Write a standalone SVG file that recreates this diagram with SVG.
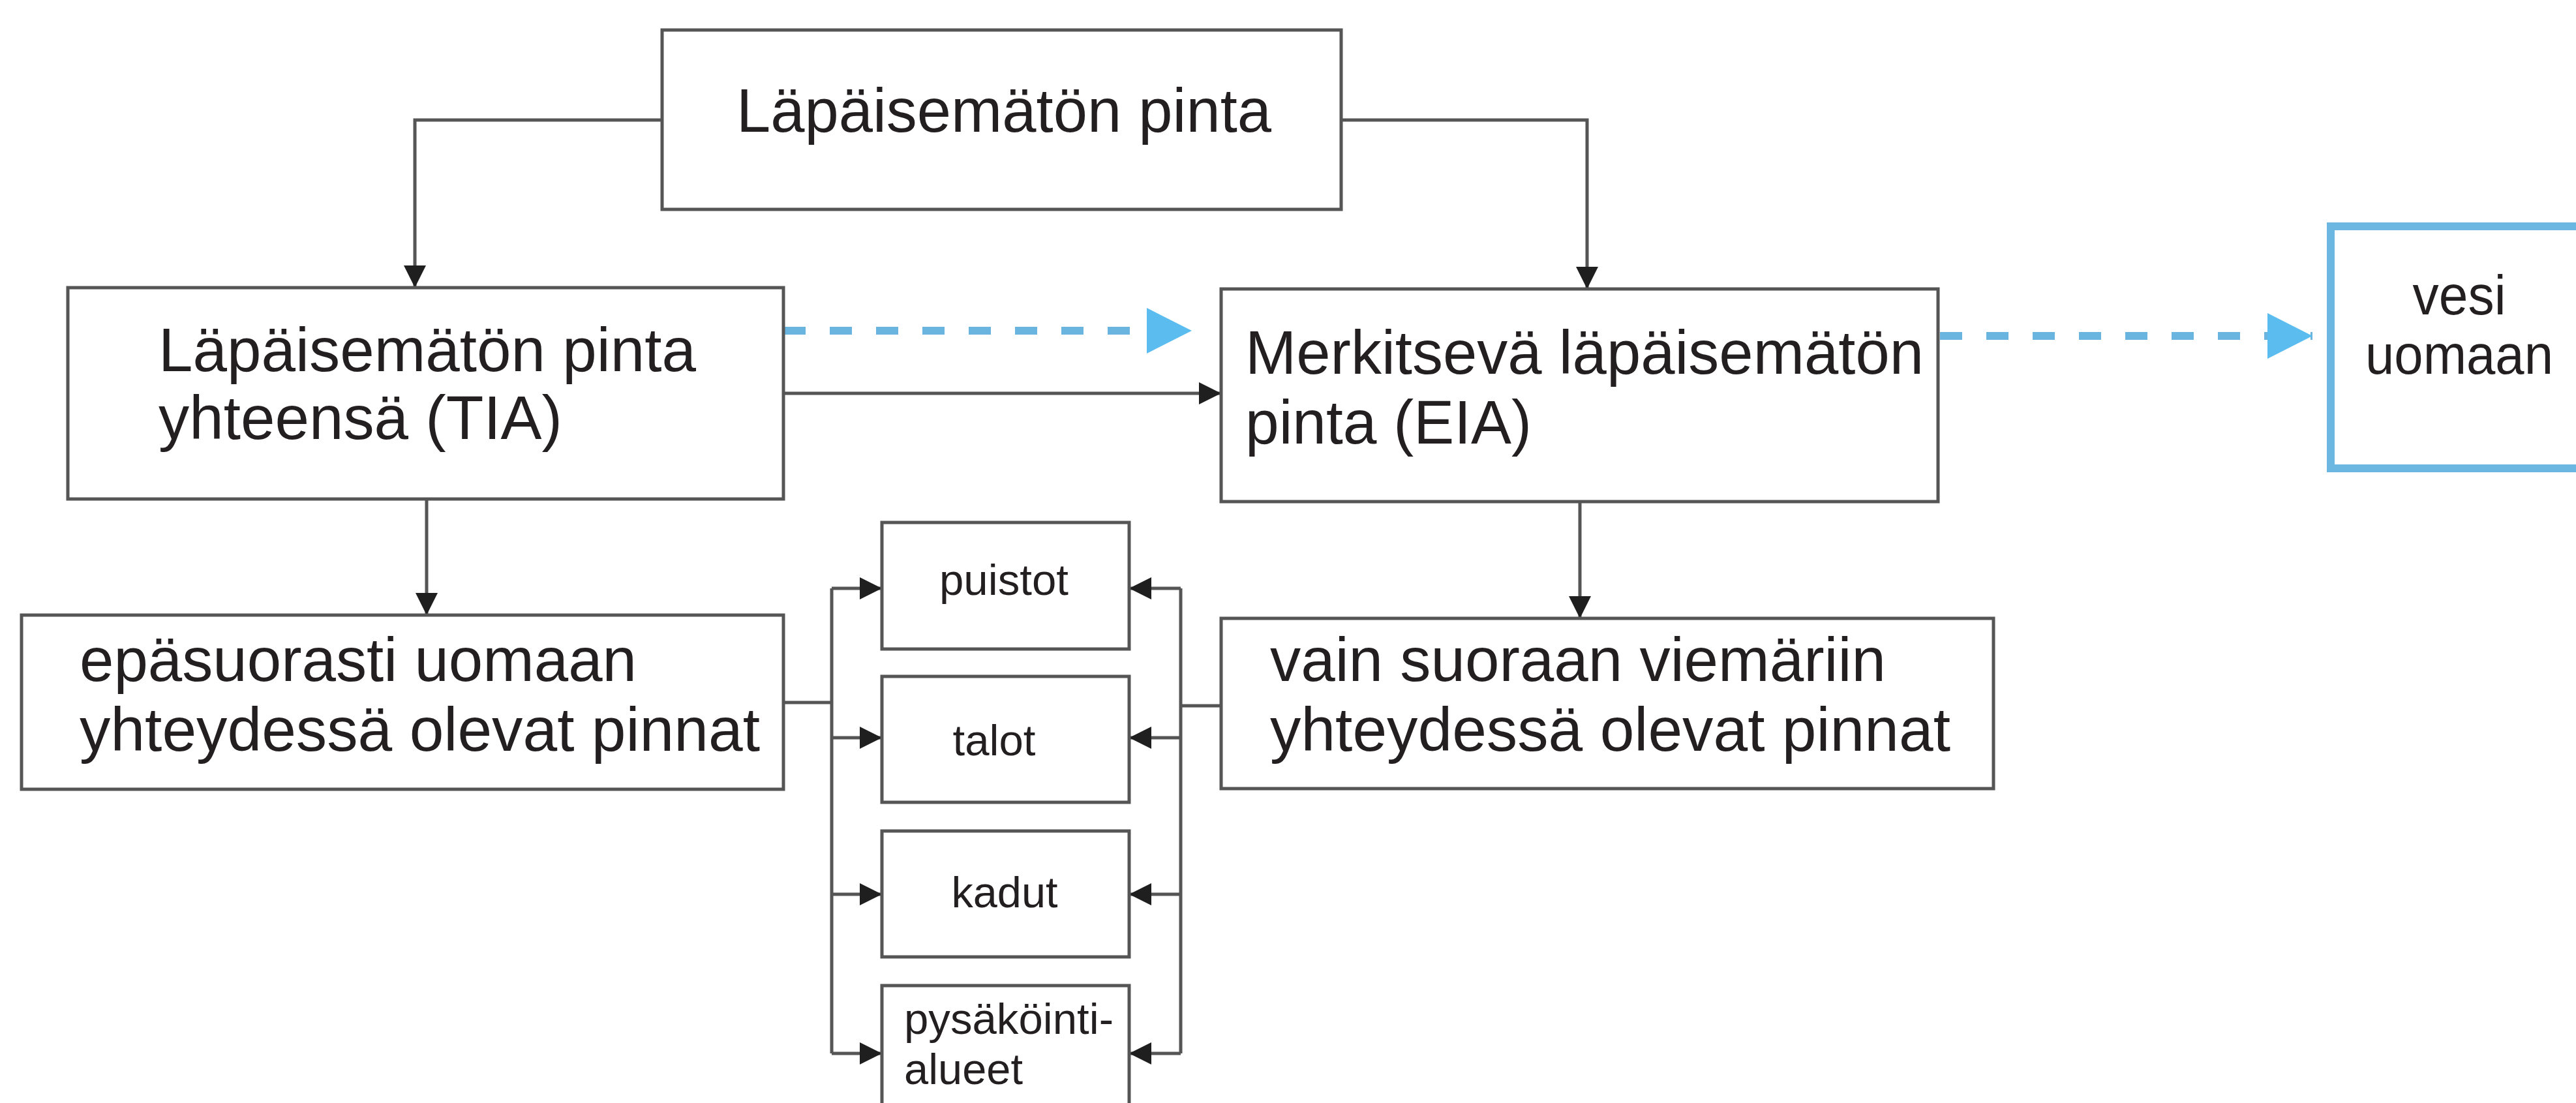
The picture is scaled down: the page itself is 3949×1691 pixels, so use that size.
<svg xmlns="http://www.w3.org/2000/svg" width="3949" height="1691" viewBox="0 0 3949 1691">
  <style>
    .box { fill: #ffffff; stroke: #555555; stroke-width: 5; }
    .water { fill: #ffffff; stroke: #6cb6e2; stroke-width: 12; }
    .lbl { font-family: "Liberation Sans", Arial, sans-serif; fill: #231f20; }
    .big { font-size: 94px; }
    .mid { font-size: 86px; }
    .small { font-size: 66px; }
    .wire { fill: none; stroke: #555555; stroke-width: 5; }
    .flow { fill: none; stroke: #6ab4e0; stroke-width: 12; stroke-dasharray: 34 37; }
  </style>
  <defs>
    <marker id="ah" viewBox="0 0 34 34" refX="34" refY="17" markerWidth="34" markerHeight="34" markerUnits="userSpaceOnUse" orient="auto">
      <path d="M0,0 L34,17 L0,34 z" fill="#1f1f1f"/>
    </marker>
    <marker id="bh" viewBox="0 0 69 70" refX="69" refY="35" markerWidth="69" markerHeight="70" markerUnits="userSpaceOnUse" orient="auto">
      <path d="M0,0 L69,35 L0,70 z" fill="#5bbcf0"/>
    </marker>
  </defs>

  <rect width="3949" height="1691" fill="#ffffff"/>

  <!-- connectors -->
  <g id="connectors">
    <path class="wire" d="M1015,184 H636 V441" marker-end="url(#ah)"/>
    <path class="wire" d="M2056,184 H2433 V443" marker-end="url(#ah)"/>
    <path class="wire" d="M1201,603 H1872" marker-end="url(#ah)"/>
    <path class="wire" d="M654,765 V943" marker-end="url(#ah)"/>
    <path class="wire" d="M2422,769 V948" marker-end="url(#ah)"/>
    <!-- left bus to the surface types -->
    <path class="wire" d="M1201,1077 H1275"/>
    <path class="wire" d="M1275,902 V1615"/>
    <path class="wire" d="M1275,902 H1352" marker-end="url(#ah)"/>
    <path class="wire" d="M1275,1131 H1352" marker-end="url(#ah)"/>
    <path class="wire" d="M1275,1371 H1352" marker-end="url(#ah)"/>
    <path class="wire" d="M1275,1615 H1352" marker-end="url(#ah)"/>
    <!-- right bus to the surface types -->
    <path class="wire" d="M1872,1082 H1810"/>
    <path class="wire" d="M1810,902 V1615"/>
    <path class="wire" d="M1810,902 H1731" marker-end="url(#ah)"/>
    <path class="wire" d="M1810,1131 H1731" marker-end="url(#ah)"/>
    <path class="wire" d="M1810,1371 H1731" marker-end="url(#ah)"/>
    <path class="wire" d="M1810,1615 H1731" marker-end="url(#ah)"/>
    <!-- water flow -->
    <path class="flow" d="M1201,507 H1827" marker-end="url(#bh)"/>
    <path class="flow" d="M2974,515 H3545" marker-end="url(#bh)"/>
  </g>

  <g id="node-impervious">
    <rect class="box" x="1015" y="46" width="1041" height="275"/>
    <text class="lbl big" x="1129" y="202" textLength="820" lengthAdjust="spacingAndGlyphs">Läpäisemätön pinta</text>
  </g>

  <g id="node-tia">
    <rect class="box" x="104" y="441" width="1097" height="324"/>
    <text class="lbl big" x="243" y="569" textLength="824" lengthAdjust="spacingAndGlyphs">Läpäisemätön pinta</text>
    <text class="lbl big" x="243" y="673" textLength="619" lengthAdjust="spacingAndGlyphs">yhteensä (TIA)</text>
  </g>

  <g id="node-eia">
    <rect class="box" x="1872" y="443" width="1099" height="326"/>
    <text class="lbl big" x="1909" y="573" textLength="1040" lengthAdjust="spacingAndGlyphs">Merkitsevä läpäisemätön</text>
    <text class="lbl big" x="1909" y="680" textLength="439" lengthAdjust="spacingAndGlyphs">pinta (EIA)</text>
  </g>

  <g id="node-water">
    <rect class="water" x="3573" y="347" width="500" height="371"/>
    <text class="lbl mid" x="3770" y="482" text-anchor="middle" textLength="143" lengthAdjust="spacingAndGlyphs">vesi</text>
    <text class="lbl mid" x="3770" y="573" text-anchor="middle" textLength="288" lengthAdjust="spacingAndGlyphs">uomaan</text>
  </g>

  <g id="node-indirect">
    <rect class="box" x="33" y="943" width="1168" height="267"/>
    <text class="lbl big" x="122" y="1044" textLength="854" lengthAdjust="spacingAndGlyphs">epäsuorasti uomaan</text>
    <text class="lbl big" x="122" y="1151" textLength="1043" lengthAdjust="spacingAndGlyphs">yhteydessä olevat pinnat</text>
  </g>

  <g id="node-direct">
    <rect class="box" x="1872" y="948" width="1184" height="261"/>
    <text class="lbl big" x="1947" y="1044" textLength="944" lengthAdjust="spacingAndGlyphs">vain suoraan viemäriin</text>
    <text class="lbl big" x="1947" y="1151" textLength="1043" lengthAdjust="spacingAndGlyphs">yhteydessä olevat pinnat</text>
  </g>

  <g id="node-parks">
    <rect class="box" x="1352" y="801" width="379" height="194"/>
    <text class="lbl small" x="1539" y="912" text-anchor="middle" textLength="198" lengthAdjust="spacingAndGlyphs">puistot</text>
  </g>

  <g id="node-houses">
    <rect class="box" x="1352" y="1037" width="379" height="193"/>
    <text class="lbl small" x="1524" y="1158" text-anchor="middle" textLength="127" lengthAdjust="spacingAndGlyphs">talot</text>
  </g>

  <g id="node-streets">
    <rect class="box" x="1352" y="1274" width="379" height="193"/>
    <text class="lbl small" x="1540" y="1391" text-anchor="middle" textLength="163" lengthAdjust="spacingAndGlyphs">kadut</text>
  </g>

  <g id="node-parking">
    <rect class="box" x="1352" y="1511" width="379" height="210"/>
    <text class="lbl small" x="1386" y="1585" textLength="321" lengthAdjust="spacingAndGlyphs">pysäköinti-</text>
    <text class="lbl small" x="1386" y="1662" textLength="182" lengthAdjust="spacingAndGlyphs">alueet</text>
  </g>
</svg>
